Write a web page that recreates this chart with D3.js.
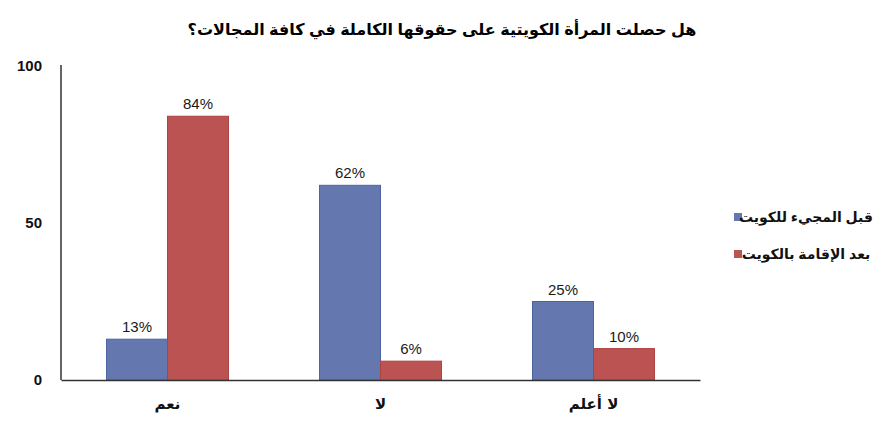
<!DOCTYPE html>
<html>
<head>
<meta charset="utf-8">
<script src="https://cdn.jsdelivr.net/npm/d3@7"></script>
<style>
  body { margin: 0; background: #fff; }
  svg text { font-family: "Liberation Sans", "DejaVu Sans", sans-serif; fill: #111; }
</style>
</head>
<body>
<div id="chart"></div>
<script>
// Chart data
const categories = ["نعم", "لا", "لا أعلم"];
const seriesNames = ["قبل المجيء للكويت", "بعد الإقامة بالكويت"];
const beforeValues = [13, 62, 25];
const afterValues = [84, 6, 10];
const yTicks = [0, 50, 100];
const title = "هل حصلت المرأة الكويتية على حقوقها الكاملة في كافة المجالات؟";

const colors = ["#6477ae", "#bb5352"];
const strokes = ["#4d64a3", "#ad4241"];

const W = 886, H = 427;
const plot = { left: 61, right: 700, top: 66, bottom: 380 };

const svg = d3.select("#chart")
    .append("svg")
    .attr("width", W)
    .attr("height", H);

// Scales
const x0 = d3.scaleBand()
    .domain(categories)
    .range([plot.left, plot.right])
    .padding(0);

const x1 = d3.scaleBand()
    .domain([0, 1])
    .range([0, x0.bandwidth()])
    .paddingInner(0)
    .paddingOuter(0.746);

const y = d3.scaleLinear()
    .domain([0, 100])
    .range([plot.bottom, plot.top]);

// Title
svg.append("text")
    .attr("x", 442)
    .attr("y", 35)
    .attr("text-anchor", "middle")
    .style("font-size", "16px")
    .style("font-weight", "bold")
    .style("fill", "#000")
    .text(title);

// Y tick labels (no tick marks in the original)
const yAxis = d3.axisLeft(y)
    .tickValues(yTicks)
    .tickSize(0)
    .tickPadding(19);

svg.append("g")
    .attr("transform", `translate(${plot.left},0)`)
    .call(yAxis)
    .call(g => g.select(".domain").remove())
    .selectAll("text")
    .style("font-family", "\"Liberation Sans\", sans-serif")
    .style("font-size", "15px")
    .style("font-weight", "bold")
    .attr("fill", "#111");

// Bars
const rows = categories.map((c, i) => ({ cat: c, vals: [beforeValues[i], afterValues[i]] }));

const groups = svg.selectAll(".grp")
    .data(rows)
    .enter()
    .append("g")
    .attr("class", "grp")
    .attr("transform", d => `translate(${x0(d.cat)},0)`);

groups.selectAll("rect")
    .data(d => d.vals.map((v, k) => ({ k, v })))
    .enter()
    .append("rect")
    .attr("x", d => x1(d.k))
    .attr("width", x1.bandwidth())
    .attr("y", d => y(d.v))
    .attr("height", d => y(0) - y(d.v))
    .attr("fill", d => colors[d.k])
    .attr("stroke", d => strokes[d.k])
    .attr("stroke-width", 1);

// Value labels
groups.selectAll(".val")
    .data(d => d.vals.map((v, k) => ({ k, v })))
    .enter()
    .append("text")
    .attr("class", "val")
    .attr("x", d => x1(d.k) + x1.bandwidth() / 2)
    .attr("y", d => y(d.v) - 7)
    .attr("text-anchor", "middle")
    .style("font-size", "15px")
    .style("fill", "#1a1a1a")
    .text(d => d.v + "%");

// Axes lines
svg.append("line")
    .attr("x1", plot.left).attr("x2", plot.left)
    .attr("y1", plot.top - 1).attr("y2", plot.bottom)
    .attr("stroke", "#333").attr("stroke-width", 1.5);

const xAxis = d3.axisBottom(x0).tickSize(0).tickPadding(18);
svg.append("g")
    .attr("transform", `translate(0,${plot.bottom})`)
    .call(xAxis)
    .call(g => g.select(".domain").attr("stroke", "#333").attr("stroke-width", 1.5))
    .selectAll("text")
    .style("font-family", "\"DejaVu Sans\", sans-serif")
    .style("font-size", "15px")
    .style("font-weight", "bold")
    .attr("fill", "#111");

// Legend
const legend = svg.append("g");
const legendY = [217, 254];
seriesNames.forEach((name, i) => {
    legend.append("rect")
        .attr("x", 734)
        .attr("y", legendY[i] - 4)
        .attr("width", 8)
        .attr("height", 8)
        .attr("fill", colors[i]);
    legend.append("text")
        .attr("x", 806)
        .attr("y", legendY[i] + 5)
        .attr("text-anchor", "middle")
        .style("font-size", "14px")
        .style("font-weight", "bold")
        .text(name);
});
</script>
</body>
</html>
